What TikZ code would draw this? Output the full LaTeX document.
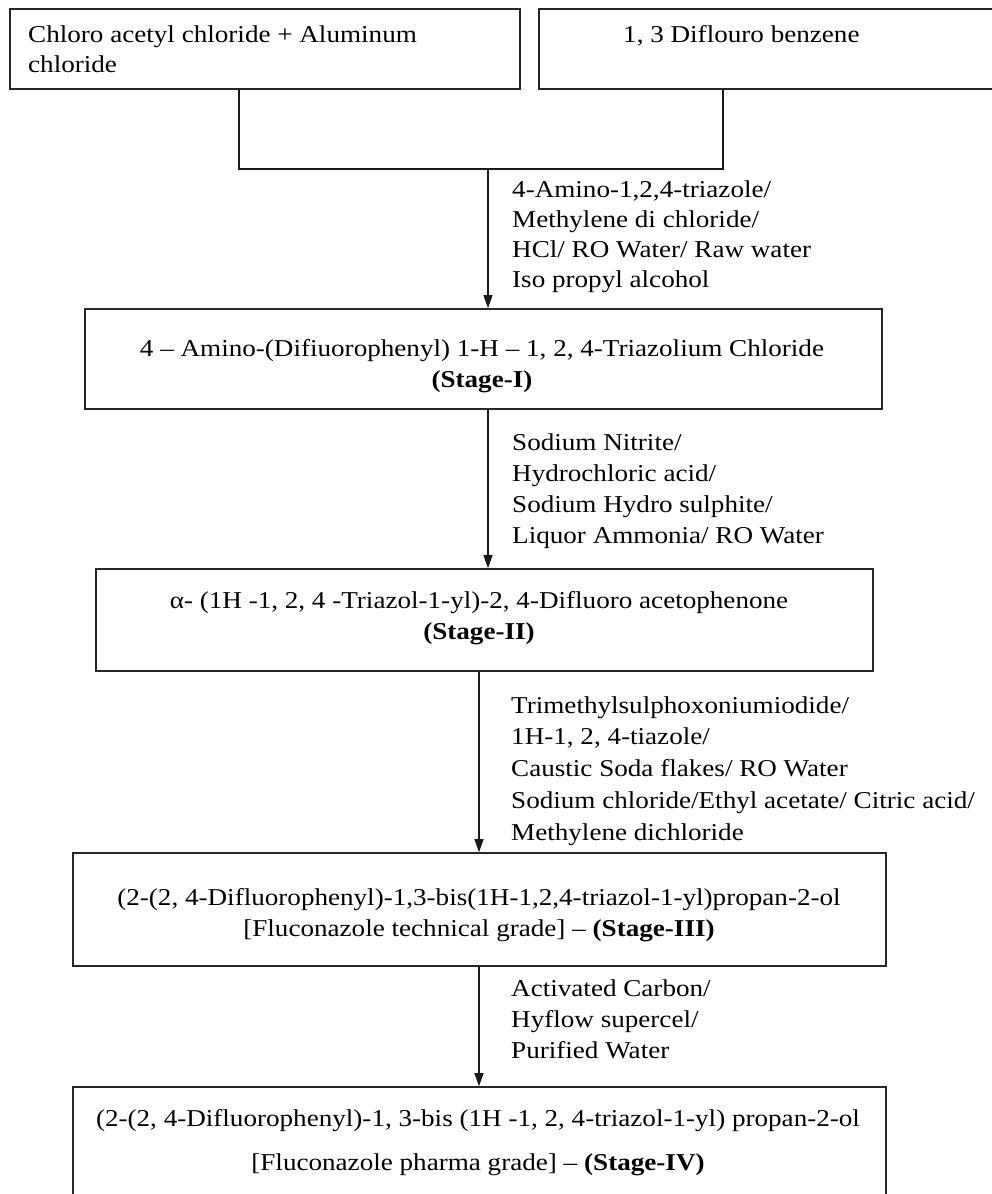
\documentclass[tikz,border=0pt]{standalone}
\usepackage{fontspec}
\setmainfont[FakeStretch=1.12]{Liberation Serif}
\usetikzlibrary{arrows.meta}
\begin{document}
\begin{tikzpicture}[x=1pt,y=-1pt,
  box/.style={draw=black!85,line width=1.6pt,inner sep=0pt,rectangle},
  txt/.style={inner sep=0pt,font=\fontsize{24.2}{31}\selectfont},
  lbl/.style={txt,anchor=base west,align=left},
  ctr/.style={txt,anchor=base,align=center},
  conn/.style={line width=1.2pt,draw=black!90},
  arr/.style={conn,-{Triangle[width=9pt,length=13pt]}}]
\useasboundingbox (0,0) rectangle (992,1194);
% boxes
\node[box,minimum width=510pt,minimum height=80pt] (b1) at (265,49) {};
\node[box,minimum width=471pt,minimum height=80pt] (b2) at (774.5,49) {};
\node[box,minimum width=797pt,minimum height=100pt] (s1) at (483.5,359) {};
\node[box,minimum width=777pt,minimum height=102pt] (s2) at (484.5,620) {};
\node[box,minimum width=813pt,minimum height=113pt] (s3) at (479.5,909.5) {};
\node[box,minimum width=813pt,minimum height=160pt] (s4) at (479.5,1167) {};
% box texts (anchor base = baseline of the last line)
\node[lbl,font=\fontsize{24.2}{30}\selectfont] (t1) at (28,72) {Chloro acetyl chloride + Aluminum\\chloride};
\node[lbl] (t2) at (623,42) {1, 3 Diflouro benzene};
\node[ctr] (ts1) at (482,387) {4 – Amino-(Difiuorophenyl) 1-H – 1, 2, 4-Triazolium Chloride\\\textbf{(Stage-I)}};
\node[ctr] (ts2) at (479,639) {α- (1H -1, 2, 4 -Triazol-1-yl)-2, 4-Difluoro acetophenone\\\textbf{(Stage-II)}};
\node[ctr] (ts3) at (479,936) {(2-(2, 4-Difluorophenyl)-1,3-bis(1H-1,2,4-triazol-1-yl)propan-2-ol\\{[}Fluconazole technical grade] – \textbf{(Stage-III)}};
\node[ctr,font=\fontsize{24.2}{44}\selectfont] (ts4) at (478,1170) {(2-(2, 4-Difluorophenyl)-1, 3-bis (1H -1, 2, 4-triazol-1-yl) propan-2-ol\\{[}Fluconazole pharma grade] – \textbf{(Stage-IV)}};
% reagent labels
\node[lbl,font=\fontsize{24.2}{30}\selectfont] (l1) at (512,287) {4-Amino-1,2,4-triazole/\\Methylene di chloride/\\HCl/ RO Water/ Raw water\\Iso propyl alcohol};
\node[lbl] (l2) at (512,543) {Sodium Nitrite/\\Hydrochloric acid/\\Sodium Hydro sulphite/\\Liquor Ammonia/ RO Water};
\node[lbl,font=\fontsize{24.2}{31.75}\selectfont] (l3) at (511,840) {Trimethylsulphoxoniumiodide/\\1H-1, 2, 4-tiazole/\\Caustic Soda flakes/ RO Water\\Sodium chloride/Ethyl acetate/ Citric acid/\\Methylene dichloride};
\node[lbl] (l4) at (511,1058) {Activated Carbon/\\Hyflow supercel/\\Purified Water};
% connectors
\coordinate (jl) at (239,169);
\coordinate (jr) at (723,169);
\coordinate (j) at (488,169);
\coordinate (k) at (479,700);
\draw[conn] (b1.south -| jl) -- (jl) -- (jr) -- (b2.south -| jr);
\draw[arr] (j) -- (s1.north -| j);
\draw[arr] (s1.south -| j) -- (s2.north -| j);
\draw[arr] (s2.south -| k) -- (s3.north -| k);
\draw[arr] (s3.south -| k) -- (s4.north -| k);
\end{tikzpicture}
\end{document}
